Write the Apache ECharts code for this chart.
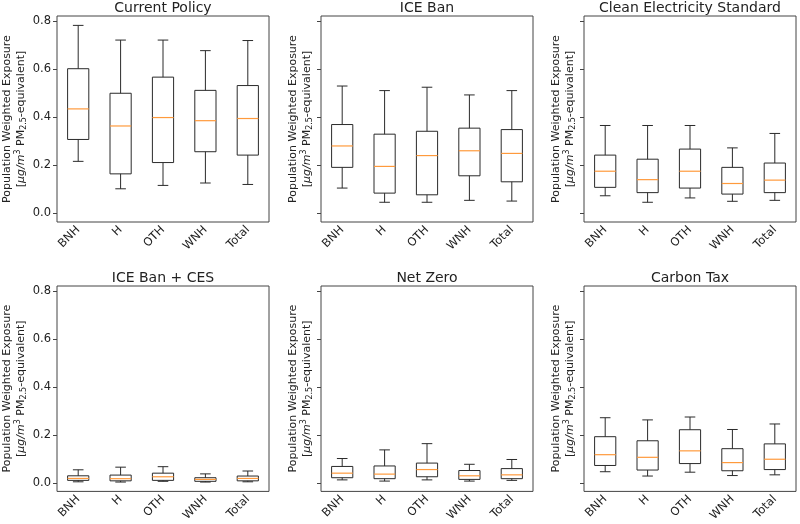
<!DOCTYPE html>
<html>
<head>
<meta charset="utf-8">
<script src="https://cdn.jsdelivr.net/npm/echarts@6/dist/echarts.min.js"></script>
<style>
  html, body { margin: 0; padding: 0; background: #fff; }
  #chart { width: 800px; height: 524px; }
</style>
</head>
<body>
<div id="chart"></div>
<script>
  // groups on x axis
  const categories = ['BNH', 'H', 'OTH', 'WNH', 'Total'];
  const yTicks = [0, 0.2, 0.4, 0.6, 0.8];
  const titles = ['Current Policy', 'ICE Ban', 'Clean Electricity Standard',
                  'ICE Ban + CES', 'Net Zero', 'Carbon Tax'];

  // each row: [lower whisker, Q1, median, Q3, upper whisker]
  const currentPolicy = [
    [0.216, 0.307, 0.434, 0.601, 0.781],
    [0.102, 0.164, 0.363, 0.499, 0.720],
    [0.116, 0.211, 0.398, 0.566, 0.720],
    [0.126, 0.256, 0.385, 0.511, 0.676],
    [0.120, 0.242, 0.394, 0.531, 0.718]
  ];
  const iceBan = [
    [0.105, 0.191, 0.280, 0.369, 0.529],
    [0.046, 0.084, 0.195, 0.329, 0.510],
    [0.046, 0.077, 0.240, 0.341, 0.524],
    [0.054, 0.156, 0.260, 0.354, 0.492],
    [0.051, 0.131, 0.249, 0.348, 0.510]
  ];
  const cleanElec = [
    [0.073, 0.108, 0.175, 0.242, 0.365],
    [0.046, 0.086, 0.140, 0.225, 0.365],
    [0.064, 0.105, 0.175, 0.267, 0.365],
    [0.050, 0.080, 0.124, 0.191, 0.272],
    [0.054, 0.086, 0.138, 0.209, 0.332]
  ];
  const iceBanCes = [
    [0.004, 0.010, 0.018, 0.029, 0.054],
    [0.003, 0.008, 0.017, 0.032, 0.065],
    [0.006, 0.010, 0.025, 0.040, 0.067],
    [0.003, 0.006, 0.014, 0.021, 0.037],
    [0.004, 0.008, 0.018, 0.028, 0.049]
  ];
  const netZero = [
    [0.012, 0.021, 0.040, 0.068, 0.101],
    [0.007, 0.017, 0.036, 0.070, 0.137],
    [0.012, 0.025, 0.055, 0.082, 0.163],
    [0.007, 0.014, 0.029, 0.051, 0.077],
    [0.010, 0.017, 0.033, 0.059, 0.097]
  ];
  const carbonTax = [
    [0.046, 0.072, 0.117, 0.192, 0.271],
    [0.028, 0.053, 0.106, 0.175, 0.262],
    [0.044, 0.080, 0.133, 0.221, 0.274],
    [0.030, 0.050, 0.084, 0.142, 0.222],
    [0.033, 0.055, 0.098, 0.162, 0.245]
  ];
  const panels = [currentPolicy, iceBan, cleanElec, iceBanCes, netZero, carbonTax];

  const FONT = 'DejaVu Sans';
  const lefts = [57, 321, 584];
  const tops = [16, 286];
  const W = 212, H = 206;

  let chart = echarts.init(document.getElementById('chart'));

  const grid = [], xAxis = [], yAxis = [], series = [], title = [];
  for (let i = 0; i < 6; i++) {
    const col = i % 3, row = Math.floor(i / 3);
    grid.push({
      left: lefts[col], top: tops[row], width: W, height: H,
      show: true, borderColor: '#444', borderWidth: 1, backgroundColor: 'transparent'
    });
    title.push({
      text: titles[i], left: lefts[col] + W / 2, top: tops[row] - 15, textAlign: 'center',
      padding: 0,
      textStyle: { fontFamily: FONT, fontSize: 14, fontWeight: 'normal', color: '#222' }
    });
    xAxis.push({
      type: 'category', gridIndex: i, data: categories,
      axisLine: { show: false },
      axisTick: { alignWithLabel: true, length: 4, lineStyle: { color: '#444' } },
      axisLabel: { rotate: 45, margin: 6, fontFamily: FONT, fontSize: 11.5, color: '#222' },
      splitLine: { show: false }
    });
    yAxis.push({
      type: 'value', gridIndex: i, min: -0.036, max: 0.82,
      name: '{a|Population Weighted Exposure}\n{a|[}{i|μg/m}{sup|3}{a| PM}{sub|2.5}{a|-equivalent]}',
      nameLocation: 'middle', nameRotate: 90, nameGap: col === 0 ? 29 : 7,
      nameTextStyle: {
        fontFamily: FONT, color: '#222',
        rich: {
          a: { fontFamily: FONT, fontSize: 11, lineHeight: 14, color: '#222' },
          i: { fontFamily: FONT, fontSize: 11, lineHeight: 14, fontStyle: 'italic', color: '#222' },
          sup: { fontFamily: FONT, fontSize: 8, verticalAlign: 'top', color: '#222' },
          sub: { fontFamily: FONT, fontSize: 8, verticalAlign: 'bottom', color: '#222' }
        }
      },
      axisLine: { show: false },
      axisTick: { show: true, length: 4, customValues: yTicks, lineStyle: { color: '#444' } },
      axisLabel: {
        show: col === 0, customValues: yTicks, margin: 6,
        fontFamily: FONT, fontSize: 11.5, color: '#222',
        formatter: v => v.toFixed(1)
      },
      splitLine: { show: false }
    });
    series.push({
      type: 'custom', xAxisIndex: i, yAxisIndex: i,
      data: panels[i].map((r, k) => [k].concat(r)),
      renderItem: function (params, api) {
        const k = api.value(0);
        const pLow = api.coord([k, api.value(1)]);
        const pQ1 = api.coord([k, api.value(2)]);
        const pMed = api.coord([k, api.value(3)]);
        const pQ3 = api.coord([k, api.value(4)]);
        const pHigh = api.coord([k, api.value(5)]);
        const bw = api.size([1, 0])[0] * 0.5;
        const cx = pLow[0];
        const ln = { stroke: '#2a2a2a', lineWidth: 1 };
        return {
          type: 'group',
          children: [
            { type: 'line', shape: { x1: cx, y1: pLow[1], x2: cx, y2: pQ1[1] }, style: ln },
            { type: 'line', shape: { x1: cx, y1: pQ3[1], x2: cx, y2: pHigh[1] }, style: ln },
            { type: 'line', shape: { x1: cx - bw / 4, y1: pLow[1], x2: cx + bw / 4, y2: pLow[1] }, style: ln },
            { type: 'line', shape: { x1: cx - bw / 4, y1: pHigh[1], x2: cx + bw / 4, y2: pHigh[1] }, style: ln },
            { type: 'rect', shape: { x: cx - bw / 2, y: pQ3[1], width: bw, height: pQ1[1] - pQ3[1] },
              style: { fill: 'none', stroke: '#2a2a2a', lineWidth: 1 } },
            { type: 'line', shape: { x1: cx - bw / 2, y1: pMed[1], x2: cx + bw / 2, y2: pMed[1] },
              style: { stroke: '#ff9a3c', lineWidth: 1.2 } }
          ]
        };
      }
    });
  }

  chart.setOption({
    animation: false,
    backgroundColor: '#fff',
    title: title,
    grid: grid,
    xAxis: xAxis,
    yAxis: yAxis,
    series: series
  });
</script>
</body>
</html>
